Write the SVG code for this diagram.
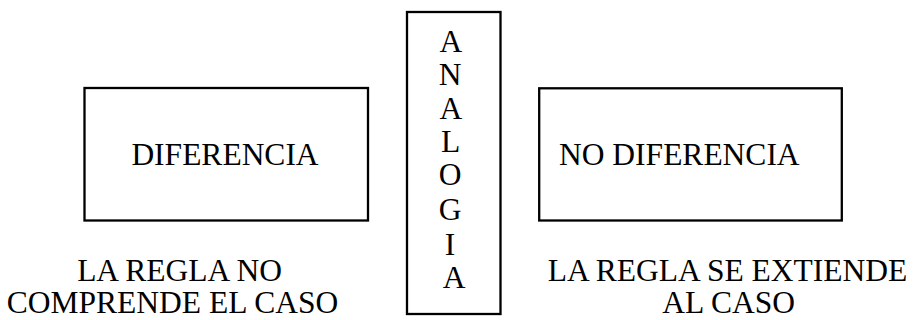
<svg xmlns="http://www.w3.org/2000/svg" width="915" height="320" viewBox="0 0 915 320">
<style>
.box{fill:#fff;stroke:#000;stroke-width:2.3}
.t{font-family:"Liberation Serif","Times New Roman",serif;font-size:31.5px;fill:#000}
.m{text-anchor:middle}
</style>
<rect width="915" height="320" fill="#fff"/>
<g id="diferencia">
<rect class="box" x="84.5" y="88" width="283.5" height="132.5"/>
<text class="t m" x="225" y="165">DIFERENCIA</text>
</g>
<g id="analogia">
<rect class="box" x="407" y="12" width="93.5" height="302"/>
<text class="t m" x="454">
<tspan x="454" y="51.5">A</tspan>
<tspan x="454" y="85">N</tspan>
<tspan x="454" y="118.5">A</tspan>
<tspan x="454" y="152">L</tspan>
<tspan x="454" y="185">O</tspan>
<tspan x="454" y="219.5">G</tspan>
<tspan x="454" y="254.5">I</tspan>
<tspan x="454" y="287.5">A</tspan>
</text>
</g>
<g id="no-diferencia">
<rect class="box" x="539.2" y="88.3" width="302.6" height="132.2"/>
<text class="t" x="559" y="165">NO DIFERENCIA</text>
</g>
<g id="regla-no">
<text class="t m"><tspan x="179.5" y="280.5">LA REGLA NO</tspan><tspan x="172.5" y="313">COMPRENDE EL CASO</tspan></text>
</g>
<g id="regla-si">
<text class="t m"><tspan x="727.5" y="280.5">LA REGLA SE EXTIENDE</tspan><tspan x="728.7" y="313">AL CASO</tspan></text>
</g>
<g id="connectors"></g>
</svg>
